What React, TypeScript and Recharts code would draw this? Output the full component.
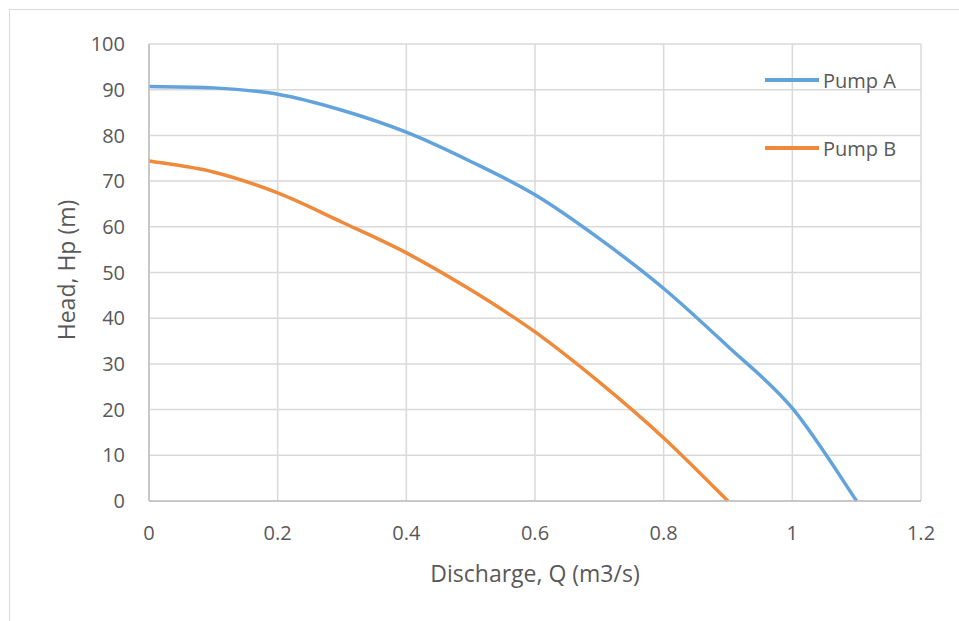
import React from 'react';
import { LineChart, Line, XAxis, YAxis, CartesianGrid, Label } from 'recharts';

// values
const discharge = [0, 0.1, 0.2, 0.3, 0.4, 0.5, 0.6, 0.7, 0.8, 0.9, 1.0, 1.1];
const pumpA = [90.7, 90.4, 89, 85.5, 80.7, 74.3, 67, 57.4, 46.5, 33.8, 20.3, 0];
const pumpB = [74.4, 72, 67.4, 61, 54.3, 46.2, 37, 26, 13.8, 0, null, null];
const xTicks = [0, 0.2, 0.4, 0.6, 0.8, 1, 1.2];
const yTicks = [0, 10, 20, 30, 40, 50, 60, 70, 80, 90, 100];

const chartData = discharge.map((q, i) => ({ q, a: pumpA[i], b: pumpB[i] }));

const series = [
    { key: 'a', name: 'Pump A', color: '#62a3dc' },
    { key: 'b', name: 'Pump B', color: '#ef8a3b' },
];

const FONT = '"Open Sans", sans-serif';
const TEXT = '#595959';

// Excel-style smoothed line (Catmull-Rom through every point)
const excelSmooth = (context: any) => {
    let pts: number[][] = [];
    return {
        areaStart() {},
        areaEnd() {},
        lineStart() {
            pts = [];
        },
        point(x: number, y: number) {
            pts.push([+x, +y]);
        },
        lineEnd() {
            if (!pts.length) return;
            context.moveTo(pts[0][0], pts[0][1]);
            for (let i = 0; i < pts.length - 1; i++) {
                const p0 = pts[Math.max(i - 1, 0)];
                const p1 = pts[i];
                const p2 = pts[i + 1];
                const p3 = pts[Math.min(i + 2, pts.length - 1)];
                context.bezierCurveTo(
                    p1[0] + (p2[0] - p0[0]) / 6,
                    p1[1] + (p2[1] - p0[1]) / 6,
                    p2[0] - (p3[0] - p1[0]) / 6,
                    p2[1] - (p3[1] - p1[1]) / 6,
                    p2[0],
                    p2[1]
                );
            }
        },
    };
};

// legend sits inside the plot area on the right, like the Excel original
const LegendBox = () => (
    <div style={{ position: 'absolute', left: 765, top: 46, fontFamily: FONT }}>
        {series.map((s) => (
            <div key={s.key} style={{ display: 'flex', alignItems: 'center', height: 68 }}>
                <div style={{ width: 54, height: 3.5, background: s.color, marginRight: 4 }} />
                <span style={{ fontSize: 20, color: TEXT }}>{s.name}</span>
            </div>
        ))}
    </div>
);

export default function App() {
    return (
        <div style={{ position: 'absolute', left: 0, top: 0, width: 959, height: 621, overflow: 'hidden', background: '#fff' }}>
            <div style={{ position: 'absolute', left: 9, top: 9, width: 1000, height: 700, border: '1px solid #d9d9d9' }} />
            <LineChart width={959} height={621} data={chartData} margin={{ top: 44, right: 38, bottom: 40, left: 89 }}>
                <CartesianGrid stroke="#d9d9d9" strokeWidth={1.5} />
                <XAxis
                    dataKey="q"
                    type="number"
                    domain={[0, 1.2]}
                    ticks={xTicks}
                    height={80}
                    stroke="#bfbfbf"
                    strokeWidth={1.5}
                    tickLine={false}
                    tickSize={0}
                    tickMargin={25}
                    tick={{ fill: TEXT, fontSize: 20, fontFamily: FONT }}
                >
                    <Label
                        content={() => (
                            <text x={535} y={582} textAnchor="middle" fill={TEXT} fontSize={23} fontFamily={FONT}>
                                Discharge, Q (m3/s)
                            </text>
                        )}
                    />
                </XAxis>
                <YAxis
                    type="number"
                    domain={[0, 100]}
                    ticks={yTicks}
                    width={60}
                    stroke="#bfbfbf"
                    strokeWidth={1.5}
                    tickLine={false}
                    tickSize={0}
                    tickMargin={24}
                    tick={{ fill: TEXT, fontSize: 20, fontFamily: FONT }}
                >
                    <Label
                        content={() => (
                            <text
                                x={75}
                                y={270}
                                textAnchor="middle"
                                transform="rotate(-90 75 270)"
                                fill={TEXT}
                                fontSize={23}
                                fontFamily={FONT}
                            >
                                Head, Hp (m)
                            </text>
                        )}
                    />
                </YAxis>
                {series.map((s) => (
                    <Line
                        key={s.key}
                        type={excelSmooth as any}
                        dataKey={s.key}
                        name={s.name}
                        stroke={s.color}
                        strokeWidth={3.5}
                        dot={false}
                        isAnimationActive={false}
                    />
                ))}
            </LineChart>
            <LegendBox />
        </div>
    );
}
